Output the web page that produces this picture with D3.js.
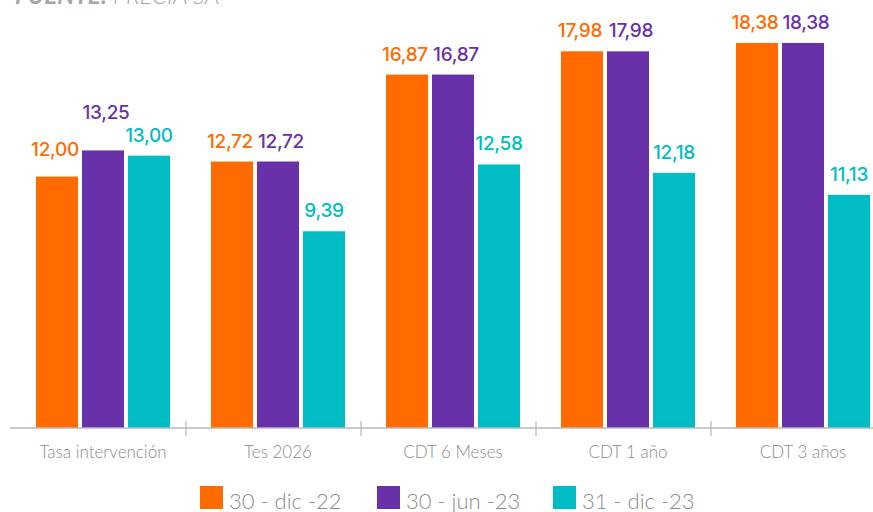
<!DOCTYPE html>
<html>
<head>
<meta charset="utf-8">
<script src="https://cdn.jsdelivr.net/npm/d3@7"></script>
<style>
  body { margin: 0; background: #fff; }
  svg { display: block; }
</style>
</head>
<body>
<div id="chart"></div>
<script>
const categories = ["Tasa intervención", "Tes 2026", "CDT 6 Meses", "CDT 1 año", "CDT 3 años"];
const seriesNames = ["30 - dic -22", "30 - jun -23", "31 - dic -23"];
const dic22 = [12.00, 12.72, 16.87, 17.98, 18.38];
const jun23 = [13.25, 12.72, 16.87, 17.98, 18.38];
const dic23 = [13.00, 9.39, 12.58, 12.18, 11.13];
const colors = ["#FF6B00", "#6831A9", "#00BDC5"];

// a couple of labels were lifted in the original to keep them apart
const labelLift = { "0|0": 7, "0|1": 17 };

const width = 873, height = 512;
const baseY = 428;

const svg = d3.select("#chart").append("svg")
  .attr("width", width)
  .attr("height", height);

const values = [dic22, jun23, dic23];

var x0 = d3.scaleBand()
  .domain(categories)
  .range([11, 886]);

var x1 = d3.scaleBand()
  .domain(seriesNames)
  .range([25, 159])
  .paddingInner(4 / 46);

var y = d3.scaleLinear()
  .domain([0, 20])
  .range([baseY, 9]);

// source note, mostly cut off at the top
const src = svg.append("text")
  .attr("x", 15)
  .attr("y", 4)
  .style("font-family", "Lato, sans-serif")
  .style("font-style", "italic")
  .style("font-size", "24px")
  .style("fill", "#a6a6a6");
src.append("tspan").style("font-weight", "bold").text("FUENTE:");
src.append("tspan").style("font-weight", "300").text(" PRECIA SA");

// bars
const groups = svg.append("g")
  .selectAll("g")
  .data(categories)
  .join("g")
  .attr("transform", d => `translate(${x0(d)},0)`);

groups.selectAll("rect")
  .data((c, i) => seriesNames.map((s, k) => ({ s: s, k: k, i: i, v: values[k][i] })))
  .join("rect")
  .attr("x", d => x1(d.s))
  .attr("y", d => y(d.v))
  .attr("width", x1.bandwidth())
  .attr("height", d => baseY - y(d.v))
  .attr("fill", d => colors[d.k]);

groups.selectAll("text.val")
  .data((c, i) => seriesNames.map((s, k) => ({ s: s, k: k, i: i, v: values[k][i] })))
  .join("text")
  .attr("class", "val")
  .attr("x", d => x1(d.s) + x1.bandwidth() / 2 + (d.k == 0 ? -2 : d.k == 1 ? 3 : 0))
  .attr("y", d => y(d.v) - 14 - (labelLift[d.i + "|" + d.k] || 0))
  .attr("text-anchor", "middle")
  .style("font-family", "Inter, sans-serif")
  .style("font-weight", "500")
  .style("font-size", "19px")
  .style("letter-spacing", "-0.3px")
  .style("fill", d => colors[d.k])
  .text(d => d.v.toFixed(2).replace(".", ","));

// axis
const axis = svg.append("g");
axis.append("line")
  .attr("x1", 10).attr("x2", width)
  .attr("y1", baseY).attr("y2", baseY)
  .attr("stroke", "#b8b8b8")
  .attr("stroke-width", 1.5);

axis.selectAll("line.tick")
  .data(categories.slice(0, -1))
  .join("line")
  .attr("class", "tick")
  .attr("x1", d => x0(d) + x0.bandwidth())
  .attr("x2", d => x0(d) + x0.bandwidth())
  .attr("y1", baseY - 7).attr("y2", baseY + 8)
  .attr("stroke", "#b8b8b8")
  .attr("stroke-width", 1.2);

axis.selectAll("text")
  .data(categories)
  .join("text")
  .attr("x", d => x0(d) + (x1.range()[0] + x1.range()[1]) / 2)
  .attr("y", 458)
  .attr("text-anchor", "middle")
  .style("font-family", "Lato, sans-serif")
  .style("font-weight", "300")
  .style("font-size", "17px")
  .style("fill", "#8c8c8c")
  .text(d => d);

// legend
const legendX = [200, 377, 553];
const legend = svg.append("g")
  .selectAll("g")
  .data(seriesNames)
  .join("g")
  .attr("transform", (d, i) => `translate(${legendX[i]},486)`);

legend.append("rect")
  .attr("width", 23)
  .attr("height", 23)
  .attr("fill", (d, i) => colors[i]);

legend.append("text")
  .attr("x", 29)
  .attr("y", 23)
  .style("font-family", "Lato, sans-serif")
  .style("font-weight", "300")
  .style("font-size", "22px")
  .style("fill", "#8c8c8c")
  .text(d => d);
</script>
</body>
</html>
